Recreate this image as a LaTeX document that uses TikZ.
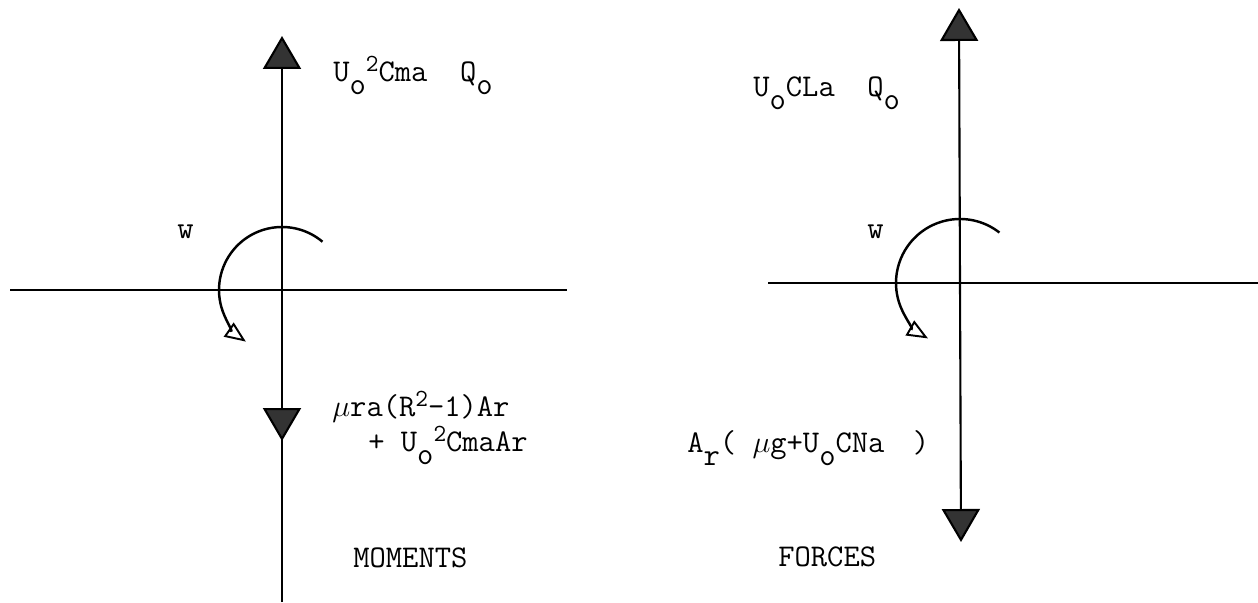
\documentclass[tikz,border=0pt]{standalone}
\usepackage{amsmath}
\usepackage{tikz}
\usetikzlibrary{arrows.meta}

\newcommand{\lo}[1]{\raisebox{-0.9ex}{#1}}
\newcommand{\hi}[1]{\raisebox{0.8ex}{\fontsize{14}{16}\selectfont #1}}

\tikzset{
  axis/.style={line width=1.2pt},
  force/.style={line width=1.2pt, -{Triangle[length=0.66cm, width=0.76cm, fill=black!80]}},
  spin/.style={line width=1.4pt, -{Triangle[open, length=0.42cm, width=0.34cm, line width=1.1pt]}},
  lbl/.style={anchor=base west, inner sep=0pt, font=\ttfamily\fontsize{18}{22}\selectfont}
}

\begin{document}
\begin{tikzpicture}[x=0.02cm, y=0.02cm]
      \useasboundingbox (0,0) rectangle (1258,602);
      % left axes (moments)
      \coordinate (lO) at (282,312);
      \coordinate (ltop) at (282,566);
      \coordinate (lbot) at (282,0);
      \coordinate (lmid) at (282,161);
      \coordinate (ll) at (10,312);
      \coordinate (lr) at (567,312);
      \draw[axis] (ll) -- (lr);
      \draw[force] (lbot) -- (ltop);
      \draw[force] (lO) -- (lmid);
      \draw[spin] ([shift={(50:63)}]lO) arc[start angle=50, end angle=235, radius=63];
      % right axes (forces)
      \coordinate (rO) at (960,319);
      \coordinate (rtop) at (959,594);
      \coordinate (rbot) at (961,60);
      \coordinate (rl) at (768,319);
      \coordinate (rr) at (1258,319);
      \draw[axis] (rl) -- (rr);
      \draw[force] (rO) -- (rtop);
      \draw[force] (rO) -- (rbot);
      \draw[spin] ([shift={(52:64)}]rO) arc[start angle=52, end angle=240, radius=64];
      % labels, left
      \node[lbl] (lw) at (177,363) {w};
      \node[lbl] (mtop) at (333,520) {U\lo{o}\hi{2}Cma\ \ Q\lo{o}};
      \node[lbl] (mbot1) at (332,185) {$\mu$ra(R\hi{2}-1)Ar};
      \node[lbl] (mbot2) at (368,150) {+ U\lo{o}\hi{2}CmaAr};
      \node[lbl] (mname) at (353,34) {MOMENTS};
      % labels, right
      \node[lbl] (rw) at (867,363) {w};
      \node[lbl] (ftop) at (753,505) {U\lo{o}CLa\ \ Q\lo{o}};
      \node[lbl] (fbot) at (687,149) {A\lo{r}( $\mu$g+U\lo{o}CNa\hspace{0.9em})};
      \node[lbl] (fname) at (778,35) {FORCES};
    \end{tikzpicture}
\end{document}
